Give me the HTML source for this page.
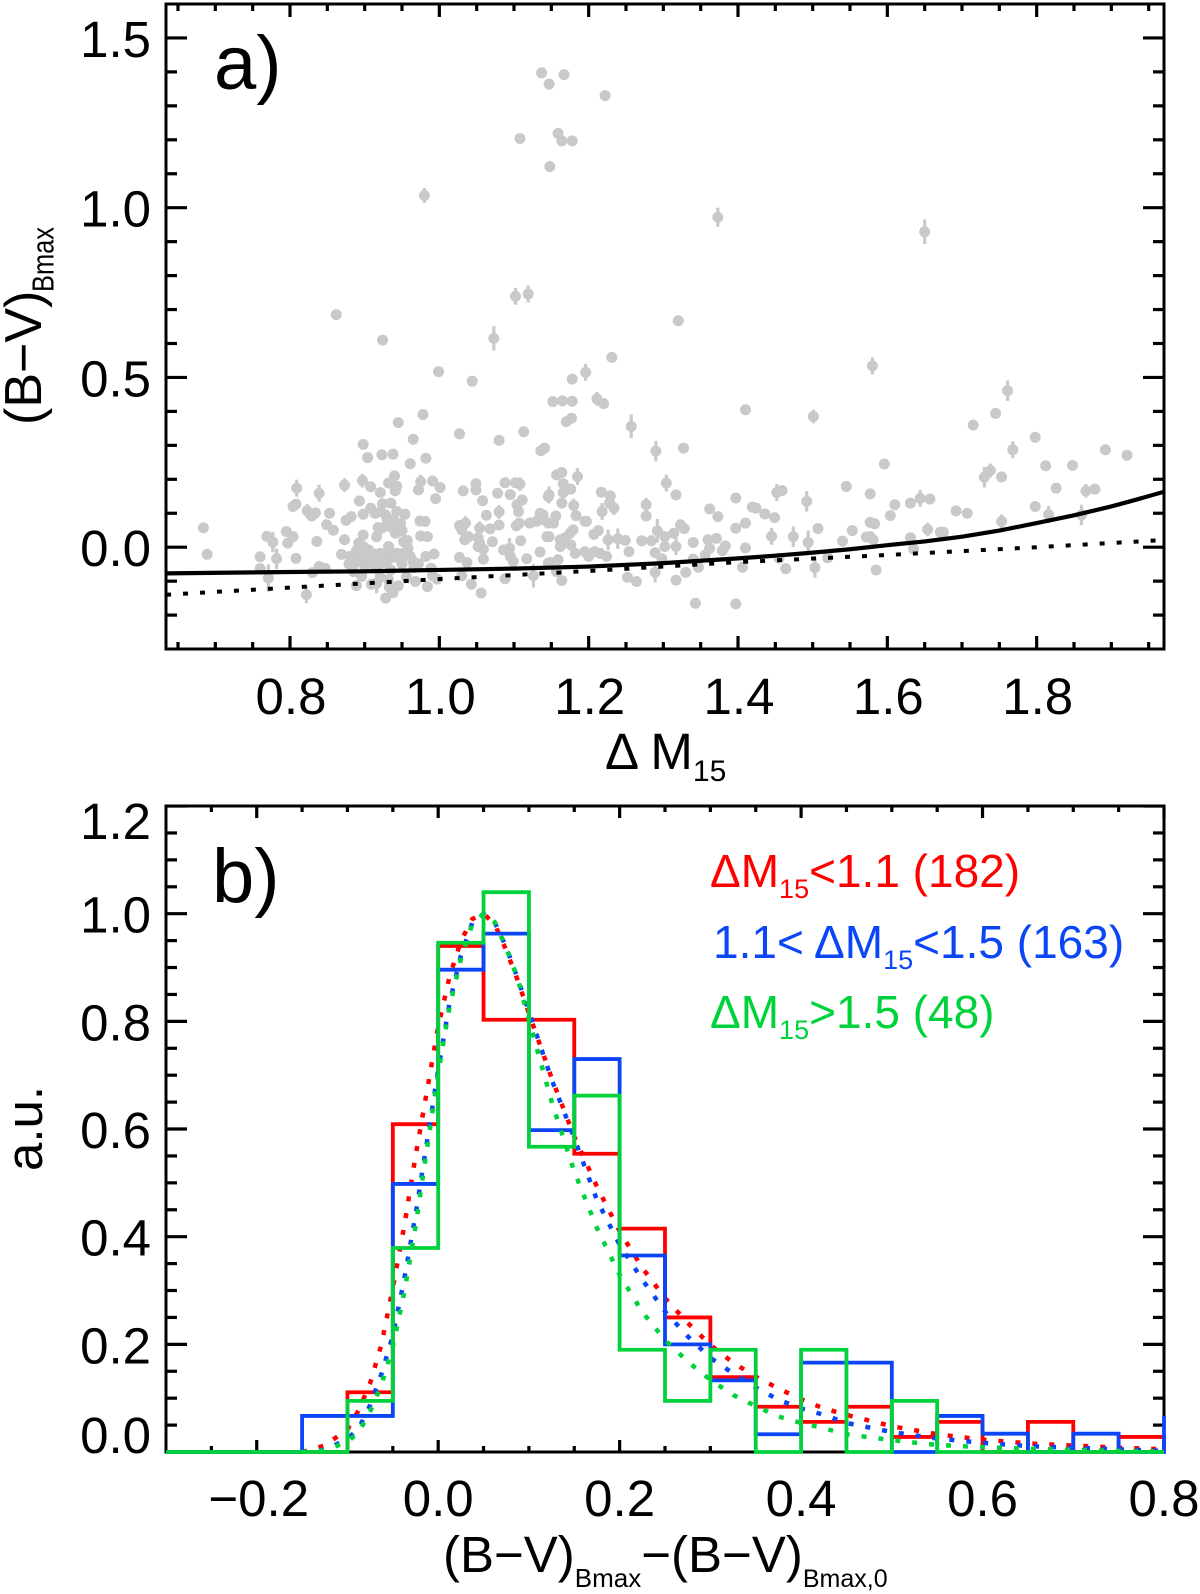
<!DOCTYPE html>
<html lang="en">
<head>
<meta charset="utf-8">
<title>Colour versus decline rate</title>
<style>
html,body{margin:0;padding:0;background:#fff;}
svg{display:block;font-family:"Liberation Sans",Arial,sans-serif;}
</style>
</head>
<body>
<svg id="chart" width="1200" height="1594" viewBox="0 0 1200 1594" xmlns="http://www.w3.org/2000/svg">
  <rect x="0" y="0" width="1200" height="1594" fill="#ffffff"/>
  <defs>
    <clipPath id="clip-b"><rect x="164" y="804" width="1002" height="650"/></clipPath>
    <clipPath id="clip-a"><rect x="166" y="4" width="998" height="645"/></clipPath>
  </defs>
  <g id="panel-a"></g>
  <g id="panel-b"></g>

  <text x="214" y="89" font-size="76">a)</text>
  <text x="212" y="902" font-size="76">b)</text>

  <text x="605" y="769" font-size="51">Δ M<tspan font-size="30" dy="12">15</tspan></text>
  <text transform="translate(41,425) rotate(-90)" font-size="52">(B−V)</text>
  <text transform="translate(53.5,292) rotate(-90)" font-size="31" textLength="65" lengthAdjust="spacingAndGlyphs">Bmax</text>
  <text transform="translate(42,1171) rotate(-90)" font-size="51">a.u.</text>
  <text x="443" y="1572" font-size="51">(B−V)<tspan font-size="26" dy="15">Bmax</tspan><tspan dy="-15">−(B−V)</tspan><tspan font-size="25" dy="15">Bmax,0</tspan></text>

  <text x="710" y="887" font-size="46" fill="#ff0000">ΔM<tspan font-size="27" dy="11">15</tspan><tspan dy="-11">&lt;1.1 (182)</tspan></text>
  <text x="713" y="958" font-size="46" fill="#0a46f5">1.1&lt; ΔM<tspan font-size="27" dy="11">15</tspan><tspan dy="-11">&lt;1.5 (163)</tspan></text>
  <text x="710" y="1028" font-size="46" fill="#00d23c">ΔM<tspan font-size="27" dy="11">15</tspan><tspan dy="-11">&gt;1.5 (48)</tspan></text>
</svg>

<script>
// ---------- Panel a data ----------
const pointX = [
.684,.689,.760,.760,.769,.795,.804,.797,.808,.804,
.808,.829,.834,.853,.849,.858,.836,.873,.875,.882,
.893,.898,.908,.914,.921,.924,.935,.943,.954,.908,
.921,.932,.940,.943,.941,.898,.904,.923,.938,.945,
.978,.965,.961,.982,.972,.991,1.001,.995,.930,.938,
.945,.950,.941,.918,.923,.916,.898,.974,.981,.975,
.984,.952,.958,.892,.898,.905,.894,.903,.909,.869,
.880,.879,.887,.894,.903,.925,.932,.936,.943,.921,
.929,.952,.961,.965,.950,.972,.982,.993,.989,.839,
.847,.830,.916,.935,.885,.896,.889,.909,.921,.932,
.945,.933,.938,.928,.956,.968,.984,.997,.991,.999,
1.044,1.027,1.080,1.113,1.136,1.141,1.032,1.049,1.049,1.078,
1.088,1.095,1.102,1.058,1.111,1.104,1.106,1.063,1.027,1.030,
1.039,1.034,1.052,1.054,1.071,1.068,1.080,1.103,1.107,1.121,
1.135,1.130,1.139,1.146,1.109,1.144,1.146,1.086,1.052,1.059,
1.059,1.095,1.099,1.117,1.135,1.027,1.037,1.030,1.043,1.056,
1.088,1.146,1.231,1.178,1.152,1.165,1.178,1.220,1.170,1.177,
1.327,1.410,1.157,1.164,1.166,1.166,1.176,1.217,1.229,1.228,
1.164,1.183,1.156,1.317,1.277,1.362,1.373,1.397,1.419,1.424,
1.436,1.449,1.459,1.545,1.139,1.153,1.195,1.197,1.179,1.175,
1.147,1.162,1.168,1.162,1.176,1.207,1.213,1.249,1.271,1.284,
1.302,1.302,1.314,1.323,1.328,1.340,1.360,1.371,1.362,1.356,
1.383,1.379,1.397,1.410,1.410,1.507,1.553,1.540,1.182,1.195,
1.200,1.208,1.215,1.224,1.254,1.289,1.298,1.159,1.148,1.340,
1.347,1.330,1.406,1.455,1.464,1.520,1.157,1.164,1.252,1.264,
1.317,1.343,1.397,1.745,1.715,1.798,1.892,1.921,1.812,1.848,
1.753,1.596,1.826,1.878,1.798,1.577,1.610,1.604,1.631,1.657,
1.692,1.707,1.577,1.583,1.577,1.581,1.572,1.631,1.671,1.675,
1.635,1.585,1.137,1.167,1.147,1.222,1.108,1.159,1.178,1.148,
.862,.924,1.320,
.889,.896,.901,.907,.912,.918,.924,.930,.938,.946,
.885,.900,.912,.925,.935,.928,.934,.948,.957,.966];
const pointY = [
.057,-.021,-.028,-.063,.032,.046,.031,.012,-.033,.120,
.127,.092,.101,.100,.066,.050,.017,.022,.079,.090,
.136,.097,.115,.100,.105,.128,.130,.105,.097,.178,
.161,.189,.210,.179,.166,.303,.264,.272,.274,.367,
.391,.318,.246,.262,.169,.195,.176,.143,.081,.081,
.056,.049,.041,.058,.056,.031,.036,.077,.076,.033,
.031,.017,-.003,.012,.002,-.008,-.018,-.027,-.023,-.021,
-.027,-.049,-.037,-.042,-.042,-.027,.002,-.018,-.018,-.018,
-.032,-.018,-.027,-.042,-.049,-.049,-.027,-.020,-.062,-.057,
-.062,-.075,-.062,-.067,-.072,-.086,-.113,-.109,-.088,-.096,
-.114,-.118,-.134,-.150,-.088,-.101,-.116,-.094,-.084,.517,
.489,.334,.315,.340,.284,.292,.166,.187,.169,.159,
.190,.155,.190,.137,.139,.125,.105,.094,.064,.051,
.031,.022,.027,.012,.016,.054,.065,.063,.071,.071,
.100,.076,.081,.071,.019,.031,.149,-.008,.002,-.006,
-.035,-.027,-.042,-.034,-.014,-.030,-.045,-.084,-.109,-.135,
-.093,-.047,.559,.495,.429,.431,.430,.423,.370,.380,
.292,.405,.213,.220,.187,.161,.171,.162,.151,.130,
.130,.093,.092,.154,.092,.113,.090,.145,.118,.115,
.098,.087,.167,.179,.095,.071,.076,.076,.051,.041,
.031,.022,.027,.002,.007,.038,.049,.020,.019,.019,
.031,.002,.041,.066,.055,.014,.022,.026,-.003,-.023,
.004,-.010,.056,.071,-.002,.055,.049,.018,-.018,-.013,
-.027,-.013,-.018,-.027,-.013,-.016,-.034,-.037,-.045,-.035,
-.059,-.074,-.059,-.032,-.063,-.031,-.072,-.098,-.089,-.101,
-.097,-.165,-.167,.394,.360,.324,.287,.271,.240,.241,
.207,.245,.174,.171,.120,.157,.125,.093,.130,.142,
.107,.100,.073,.069,.031,.022,.030,.028,.044,.044,
-.005,-.067,1.397,1.392,1.364,1.330,1.204,1.219,1.197,1.121,
.685,.610,.667,
-.010,-.030,-.015,-.035,-.020,-.030,-.040,-.040,-.030,-.030,
-.050,-.055,-.050,-.045,.060,.095,.070,.070,.020,-.060];

const errPointX = [.777,.782,.771,.809,.839,.873,.823,.897,.975,.916,.822,1.108,1.080,1.035,1.054,1.094,1.126,1.196,1.211,1.257,1.290,1.501,1.185,1.147,1.234,1.180,1.218,1.304,1.277,1.452,1.492,1.226,1.239,1.292,1.317,1.445,1.474,1.494,1.503,1.289,1.580,1.761,1.768,1.730,1.738,1.866,1.816,1.860,1.644,1.753,1.654,1.164,.980,1.102,1.119,1.073,1.373,1.650];
const errPointY = [.015,-.034,-.091,.174,.159,.183,.107,.196,.193,-.106,-.140,.186,.104,.071,.056,-.003,-.084,.515,.437,.356,.283,.385,.208,.154,.115,.123,.105,.189,.125,.161,.135,.022,.025,.048,.002,.032,.031,.014,-.060,-.074,.534,.461,.287,.206,.226,.166,.096,.095,.144,.076,.052,1.197,1.036,.739,.746,.615,.972,.929];
const errPointSize = [.03,.03,.04,.025,.025,.02,.02,.02,.02,.03,.025,.02,.02,.02,.02,.03,.035,.025,.02,.035,.03,.02,.025,.025,.02,.02,.025,.025,.02,.025,.03,.03,.03,.035,.025,.025,.03,.035,.03,.03,.025,.03,.025,.03,.02,.02,.025,.03,.025,.02,.02,.012,.022,.025,.025,.036,.028,.036];

const solidCurveX = [.634,.8,.9,1.0,1.1,1.2,1.3,1.4,1.45,1.5,1.55,1.6,1.65,1.7,1.75,1.8,1.85,1.9,1.935,1.97];
const solidCurveY = [-.077,-.073,-.071,-.067,-.063,-.057,-.047,-.033,-.025,-.016,-.006,.006,.017,.031,.049,.071,.094,.12,.141,.163];
const dottedCurveX = [.634,.8,1.0,1.2,1.4,1.6,1.8,1.97];
const dottedCurveY = [-.14,-.119,-.094,-.07,-.044,-.023,0,.021];

const xMajorA = [0.8,1.0,1.2,1.4,1.6,1.8];
const xMajorLabelsA = ["0.8","1.0","1.2","1.4","1.6","1.8"];
const xMinorA = [.65,.7,.75,.85,.9,.95,1.05,1.1,1.15,1.25,1.3,1.35,1.45,1.5,1.55,1.65,1.7,1.75,1.85,1.9,1.95];
const yMajorA = [0,0.5,1.0,1.5];
const yMajorLabelsA = ["0.0","0.5","1.0","1.5"];
const yMinorA = [-.2,-.1,.1,.2,.3,.4,.6,.7,.8,.9,1.1,1.2,1.3,1.4];

// ---------- Panel b data ----------
const binStart = [-.3,-.25,-.2,-.15,-.1,-.05,0,.05,.1,.15,.2,.25,.3,.35,.4,.45,.5,.55,.6,.65,.7,.75,.8];
const histLow = [0,0,0,0,.111,.609,.94,.803,.803,.554,.415,.25,.139,.084,.056,.084,.028,.056,0,.056,0,.028,0];
const histMid = [0,0,0,.067,.067,.498,.896,.963,.598,.73,.365,.2,.133,.033,.166,.166,0,.067,.034,0,.034,0,.067];
const histHigh = [0,0,0,0,.095,.379,.946,1.04,.567,.662,.19,.095,.19,0,.19,0,.095,0,0,0,0,0,0];

const fitX = [-.15,-.125,-.1,-.0875,-.075,-.0625,-.05,-.0375,-.025,0,.0125,.025,.0375,.05,.0625,.075,.0875,.1,.125,.15,.175,.2,.225,.25,.275,.3,.325,.35,.375,.4,.425,.45,.5,.55,.6,.65,.7,.75,.8];
const fitLow = [0,.012,.042,.078,.128,.2,.305,.419,.549,.79,.883,.949,.99,1,.98,.932,.877,.815,.695,.586,.493,.41,.342,.286,.24,.199,.166,.14,.118,.098,.081,.069,.048,.033,.023,.016,.012,.008,.005];
const fitMid = [0,.004,.024,.044,.087,.145,.216,.32,.44,.71,.834,.922,.983,1,.983,.938,.88,.818,.692,.583,.468,.385,.32,.261,.215,.175,.146,.12,.097,.081,.069,.054,.037,.025,.017,.011,.008,.005,.002];
const fitHigh = [0,.003,.019,.037,.075,.125,.196,.295,.419,.704,.827,.916,.98,1,.984,.936,.88,.803,.651,.521,.416,.329,.26,.208,.168,.134,.106,.085,.066,.054,.044,.033,.022,.013,.009,.006,.004,.002,.001];

const xMajorB = [-.2,0,.2,.4,.6,.8];
const xMajorLabelsB = ["−0.2","0.0","0.2","0.4","0.6","0.8"];
const xMinorB = [-.25,-.15,-.1,-.05,.05,.1,.15,.25,.3,.35,.45,.5,.55,.65,.7,.75];
const yMajorB = [0,.2,.4,.6,.8,1.0,1.2];
const yMajorLabelsB = ["0.0","0.2","0.4","0.6","0.8","1.0","1.2"];
const yMinorB = [.05,.1,.15,.25,.3,.35,.45,.5,.55,.65,.7,.75,.85,.9,.95,1.05,1.1,1.15];

// ---------- Axis functions ----------
const xA = v => 290 + 746.67 * (v - 0.8);
const yA = v => 547.2 - 339.5 * v;
const xB = v => 166 + 907.27 * (v + 0.3);
const yB = v => 1452 - 538.3 * v;

const NS = "http://www.w3.org/2000/svg";
const panelA = document.getElementById("panel-a");
const panelB = document.getElementById("panel-b");

function make(tag, parent) {
  const el = document.createElementNS(NS, tag);
  parent.appendChild(el);
  return el;
}
function drawLine(parent, x1, y1, x2, y2, width, color) {
  const el = make("line", parent);
  el.setAttribute("x1", x1);
  el.setAttribute("y1", y1);
  el.setAttribute("x2", x2);
  el.setAttribute("y2", y2);
  el.setAttribute("stroke", color);
  el.setAttribute("stroke-width", width);
  return el;
}
function drawText(parent, x, y, str, size, anchor) {
  const el = make("text", parent);
  el.setAttribute("x", x);
  el.setAttribute("y", y);
  el.setAttribute("font-size", size);
  el.setAttribute("text-anchor", anchor);
  el.textContent = str;
  return el;
}
function polyline(xs, ys, fx, fy) {
  return xs.map((x, i) => fx(x).toFixed(2) + "," + fy(ys[i]).toFixed(2)).join(" ");
}

// ---------- Panel a marks ----------
const marksA = make("g", panelA);
marksA.setAttribute("clip-path", "url(#clip-a)");



errPointX.forEach((x, i) => {
  const bar = drawLine(marksA, xA(x), yA(errPointY[i] + errPointSize[i]), xA(x), yA(errPointY[i] - errPointSize[i]), 3.2, "#c9c9c9");
  
  
  const dot = make("circle", marksA);
  dot.setAttribute("cx", xA(x));
  dot.setAttribute("cy", yA(errPointY[i]));
  dot.setAttribute("r", 5.5);
  dot.setAttribute("fill", "#c9c9c9");
  
  
});
pointX.forEach((x, i) => {
  const dot = make("circle", marksA);
  dot.setAttribute("cx", xA(x));
  dot.setAttribute("cy", yA(pointY[i]));
  dot.setAttribute("r", 5.5);
  dot.setAttribute("fill", "#c9c9c9");
  
  
});

const solid = make("polyline", marksA);
solid.setAttribute("points", polyline(solidCurveX, solidCurveY, xA, yA));
solid.setAttribute("fill", "none");
solid.setAttribute("stroke", "#000");
solid.setAttribute("stroke-width", "4.2");
solid.setAttribute("stroke-linejoin", "round");



const dotted = make("polyline", marksA);
dotted.setAttribute("points", polyline(dottedCurveX, dottedCurveY, xA, yA));
dotted.setAttribute("fill", "none");
dotted.setAttribute("stroke", "#000");
dotted.setAttribute("stroke-width", "4");
dotted.setAttribute("stroke-dasharray", "5 12");



// ---------- Frames and ticks ----------
function drawFrame(parent, left, top, right, bottom) {
  const fr = make("rect", parent);
  fr.setAttribute("x", left);
  fr.setAttribute("y", top);
  fr.setAttribute("width", right - left);
  fr.setAttribute("height", bottom - top);
  fr.setAttribute("fill", "none");
  fr.setAttribute("stroke", "#000");
  fr.setAttribute("stroke-width", "3");
  return fr;
}

const frameA = drawFrame(panelA, 166, 4, 1164, 649);



xMajorA.forEach((v, i) => {
  const lo = drawLine(panelA, xA(v), 649, xA(v), 636, 3.2, "#000");
  
  
  const hi = drawLine(panelA, xA(v), 4, xA(v), 17, 3.2, "#000");
  
  
  const lab = drawText(panelA, xA(v) + 1, 714, xMajorLabelsA[i], 51, "middle");
  
  
});
xMinorA.forEach(v => {
  const lo = drawLine(panelA, xA(v), 649, xA(v), 642, 3.2, "#000");
  
  
  const hi = drawLine(panelA, xA(v), 4, xA(v), 11, 3.2, "#000");
  
  
});
yMajorA.forEach((v, i) => {
  const lo = drawLine(panelA, 166, yA(v), 187, yA(v), 3.2, "#000");
  
  
  const hi = drawLine(panelA, 1164, yA(v), 1143, yA(v), 3.2, "#000");
  
  
  const lab = drawText(panelA, 151, yA(v) + 19, yMajorLabelsA[i], 51, "end");
  
  
});
yMinorA.forEach(v => {
  const lo = drawLine(panelA, 166, yA(v), 177, yA(v), 3.2, "#000");
  
  
  const hi = drawLine(panelA, 1164, yA(v), 1153, yA(v), 3.2, "#000");
  
  
});

const frameB = drawFrame(panelB, 166, 806, 1164, 1452);



xMajorB.forEach((v, i) => {
  const lo = drawLine(panelB, xB(v), 1452, xB(v), 1440, 3.2, "#000");
  
  
  const hi = drawLine(panelB, xB(v), 806, xB(v), 818, 3.2, "#000");
  
  
  const lab = drawText(panelB, xB(v) + (i === 0 ? 2 : 0), 1516, xMajorLabelsB[i], 51, "middle");
  
  
});
xMinorB.forEach(v => {
  const lo = drawLine(panelB, xB(v), 1452, xB(v), 1446, 3.2, "#000");
  
  
  const hi = drawLine(panelB, xB(v), 806, xB(v), 812, 3.2, "#000");
  
  
});
yMajorB.forEach((v, i) => {
  const lo = drawLine(panelB, 166, yB(v), 187, yB(v), 3.2, "#000");
  
  
  const hi = drawLine(panelB, 1164, yB(v), 1143, yB(v), 3.2, "#000");
  
  
  const shift = v === 0 ? 1 : (v > 1.1 ? 33 : 19);
  const lab = drawText(panelB, 151, yB(v) + shift, yMajorLabelsB[i], 51, "end");
  
  
});
yMinorB.forEach(v => {
  const lo = drawLine(panelB, 166, yB(v), 177, yB(v), 3.2, "#000");
  
  
  const hi = drawLine(panelB, 1164, yB(v), 1153, yB(v), 3.2, "#000");
  
  
});

// ---------- Panel b marks ----------
const BIN_WIDTH = 0.05;
function stairs(values) {
  let d = "M" + xB(binStart[0]).toFixed(2) + " " + yB(0).toFixed(2);
  values.forEach((val, i) => {
    d += " V" + yB(val).toFixed(2);
    if (i < values.length - 1) {
      d += " H" + xB(binStart[i] + BIN_WIDTH).toFixed(2);
    }
  });
  return d;
}
const marksB = make("g", panelB);
marksB.setAttribute("clip-path", "url(#clip-b)");



const lowHist = make("path", marksB);
lowHist.setAttribute("d", stairs(histLow));
lowHist.setAttribute("fill", "none");
lowHist.setAttribute("stroke", "#ff0000");
lowHist.setAttribute("stroke-width", "3.8");



const lowFit = make("polyline", marksB);
lowFit.setAttribute("points", polyline(fitX, fitLow, xB, yB));
lowFit.setAttribute("fill", "none");
lowFit.setAttribute("stroke", "#ff0000");
lowFit.setAttribute("stroke-width", "4.5");
lowFit.setAttribute("stroke-dasharray", "5 12");



const midHist = make("path", marksB);
midHist.setAttribute("d", stairs(histMid));
midHist.setAttribute("fill", "none");
midHist.setAttribute("stroke", "#0a46f5");
midHist.setAttribute("stroke-width", "3.8");



const midFit = make("polyline", marksB);
midFit.setAttribute("points", polyline(fitX, fitMid, xB, yB));
midFit.setAttribute("fill", "none");
midFit.setAttribute("stroke", "#0a46f5");
midFit.setAttribute("stroke-width", "4.5");
midFit.setAttribute("stroke-dasharray", "5 12");



const highHist = make("path", marksB);
highHist.setAttribute("d", stairs(histHigh));
highHist.setAttribute("fill", "none");
highHist.setAttribute("stroke", "#00d23c");
highHist.setAttribute("stroke-width", "3.8");



const highFit = make("polyline", marksB);
highFit.setAttribute("points", polyline(fitX, fitHigh, xB, yB));
highFit.setAttribute("fill", "none");
highFit.setAttribute("stroke", "#00d23c");
highFit.setAttribute("stroke-width", "4.5");
highFit.setAttribute("stroke-dasharray", "5 12");


</script>
</body>
</html>
